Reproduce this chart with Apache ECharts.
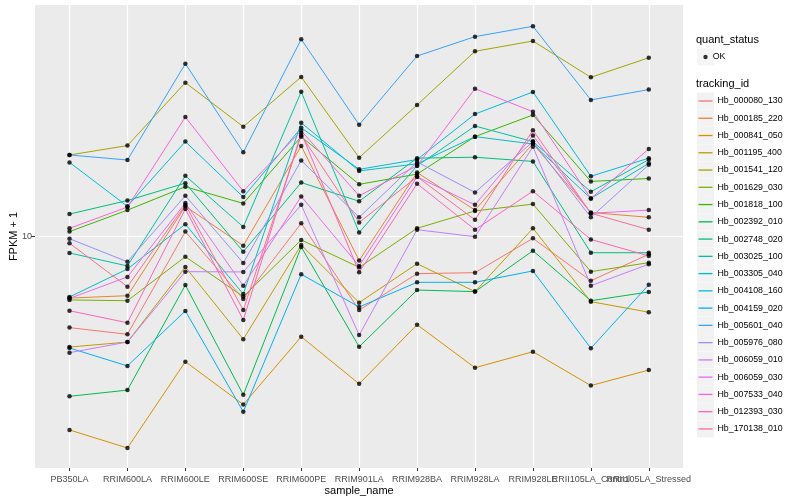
<!DOCTYPE html>
<html>
<head>
<meta charset="utf-8">
<script src="https://cdn.jsdelivr.net/npm/echarts@6/dist/echarts.min.js"></script>
<style>html,body{margin:0;padding:0;background:#fff;}#chart{width:800px;height:500px;}</style>
</head>
<body>
<div id="chart"></div>
<script>
const categories = ['PB350LA','RRIM600LA','RRIM600LE','RRIM600SE','RRIM600PE','RRIM901LA','RRIM928BA','RRIM928LA','RRIM928LE','RRII105LA_Control','RRII105LA_Stressed'];
const trackingIds = ['Hb_000080_130','Hb_000185_220','Hb_000841_050','Hb_001195_400','Hb_001541_120','Hb_001629_030','Hb_001818_100','Hb_002392_010','Hb_002748_020','Hb_003025_100','Hb_003305_040','Hb_004108_160','Hb_004159_020','Hb_005601_040','Hb_005976_080','Hb_006059_010','Hb_006059_030','Hb_007533_040','Hb_012393_030','Hb_170138_010'];
const colors = ['#F8766D','#EA8331','#D89000','#C09B00','#A3A500','#7CAE00','#39B600','#00BB4E','#00BF7D','#00C1A3','#00BFC4','#00BAE0','#00B0F6','#35A2FF','#9590FF','#C77CFF','#E76BF3','#FA62DB','#FF62BC','#FF6C91'];
const yTickValues = [10];

// FPKM + 1 per sample (order of categories)
const hb_000080_130 = [4.04, 3.78, 10.5, 5.37, 11.4, 4.81, 6.91, 6.98, 9.82, 6.44, 8.38];
const hb_000185_220 = [5.42, 5.55, 13.5, 9.13, 24.6, 7.88, 18.9, 13.0, 25.2, 12.7, 12.1];
const hb_000841_050 = [1.46, 1.22, 2.88, 1.88, 3.69, 2.31, 4.16, 2.71, 3.18, 2.27, 2.65];
const hb_001195_400 = [3.33, 3.50, 7.38, 3.60, 9.19, 5.18, 7.63, 5.78, 10.85, 5.23, 4.71];
const hb_001541_120 = [22.5, 24.7, 46.2, 29.8, 48.9, 21.9, 37.0, 63.1, 69.9, 48.7, 59.2];
const hb_001629_030 = [5.32, 5.28, 8.18, 5.50, 9.66, 7.36, 10.85, 12.9, 13.8, 7.05, 7.71];
const hb_001818_100 = [10.5, 13.0, 16.4, 13.9, 27.0, 16.8, 18.6, 27.0, 33.5, 17.3, 17.8];
const hb_002392_010 = [2.04, 2.17, 6.17, 2.07, 9.01, 3.34, 5.87, 5.78, 8.68, 5.28, 5.76];
const hb_002748_020 = [12.5, 14.3, 17.0, 8.60, 17.1, 14.2, 21.8, 22.0, 21.1, 8.51, 8.51];
const hb_003025_100 = [8.49, 7.46, 18.3, 11.0, 42.2, 10.4, 20.2, 30.0, 25.7, 15.6, 21.5];
const hb_003305_040 = [5.48, 7.24, 11.3, 5.64, 31.0, 19.2, 20.6, 27.0, 25.1, 14.6, 20.7];
const hb_004108_160 = [20.9, 13.5, 25.7, 14.8, 29.5, 19.5, 21.5, 33.8, 42.1, 18.2, 21.8];
const hb_004159_020 = [3.30, 2.76, 4.77, 1.75, 6.87, 4.96, 6.34, 6.34, 7.10, 3.29, 6.19];
const hb_005601_040 = [22.5, 21.4, 55.8, 23.1, 71.1, 30.4, 60.2, 73.0, 80.9, 38.9, 43.1];
const hb_005976_080 = [9.78, 7.78, 15.0, 7.68, 21.3, 12.1, 21.0, 15.5, 25.7, 12.1, 20.4];
const hb_006059_010 = [3.15, 3.50, 7.05, 7.03, 13.7, 3.75, 10.7, 9.98, 24.4, 6.13, 7.59];
const hb_006059_030 = [5.40, 6.69, 13.95, 6.13, 14.9, 7.46, 18.1, 13.7, 27.3, 12.6, 13.0];
const hb_007533_040 = [10.85, 13.4, 32.8, 15.7, 28.6, 15.0, 20.2, 43.5, 34.6, 14.6, 23.9];
const hb_012393_030 = [4.78, 4.24, 13.15, 4.36, 28.0, 7.01, 16.9, 10.7, 15.7, 9.71, 8.24];
const hb_170138_010 = [9.35, 6.07, 13.7, 4.81, 27.4, 11.5, 18.1, 11.8, 28.8, 12.6, 10.7];

const seriesValues = [hb_000080_130, hb_000185_220, hb_000841_050, hb_001195_400, hb_001541_120, hb_001629_030, hb_001818_100, hb_002392_010, hb_002748_020, hb_003025_100, hb_003305_040, hb_004108_160, hb_004159_020, hb_005601_040, hb_005976_080, hb_006059_010, hb_006059_030, hb_007533_040, hb_012393_030, hb_170138_010];

const FONT = 'Liberation Sans, Arial, Helvetica, sans-serif';
const chart = echarts.init(document.getElementById('chart'), null, {renderer: 'canvas'});

const lineSeries = trackingIds.map((id, i) => ({
  name: id,
  type: 'line',
  xAxisIndex: 1,
  yAxisIndex: 1,
  data: seriesValues[i],
  color: colors[i],
  showSymbol: false,
  symbol: 'none',
  clip: false,
  lineStyle: {width: 1, color: colors[i]},
  emphasis: {disabled: true},
  z: 2
}));

const pointData = [];
seriesValues.forEach(vals => vals.forEach((v, j) => pointData.push([categories[j], v])));

const okSeries = {
  name: 'OK',
  type: 'scatter',
  xAxisIndex: 1,
  yAxisIndex: 1,
  data: pointData,
  symbol: 'circle',
  symbolSize: 4.5,
  color: '#000',
  itemStyle: {color: '#000'},
  clip: false,
  emphasis: {disabled: true},
  z: 5
};

const option = {
  animation: false,
  backgroundColor: '#fff',
  textStyle: {fontFamily: FONT},
  title: [
    {text: 'quant_status', left: 696, top: 34.5, padding: 0, textStyle: {fontSize: 11, fontWeight: 'normal', color: '#000', fontFamily: FONT}},
    {text: 'tracking_id', left: 696, top: 78.5, padding: 0, textStyle: {fontSize: 11, fontWeight: 'normal', color: '#000', fontFamily: FONT}}
  ],
  grid: [
    {left: 35, right: 117, top: 5, bottom: 32, show: true, backgroundColor: '#EBEBEB', borderWidth: 0, containLabel: false, outerBoundsMode: 'none'},
    {left: 69.5, right: 151.2, top: 5, bottom: 32, containLabel: false, outerBoundsMode: 'none'}
  ],
  xAxis: [
    {gridIndex: 0, type: 'value', min: 0, max: 1, show: false},
    {
      gridIndex: 1, type: 'category', data: categories, boundaryGap: false,
      axisLine: {show: false},
      axisTick: {show: true, interval: 0, length: 3, lineStyle: {color: '#333', width: 1}},
      axisLabel: {interval: 0, fontSize: 9, color: '#4D4D4D', margin: 7, fontFamily: FONT, hideOverlap: false},
      splitLine: {show: true, interval: 0, lineStyle: {color: '#fff', width: 1.2}},
      name: 'sample_name', nameLocation: 'middle', nameGap: 17, nameMoveOverlap: false,
      nameTextStyle: {fontSize: 11, color: '#000', fontFamily: FONT}
    }
  ],
  yAxis: [
    {
      gridIndex: 0, type: 'log', logBase: 10, min: 1, max: 100,
      axisLine: {show: false},
      axisTick: {show: true, length: 4, customValues: yTickValues, lineStyle: {color: '#333', width: 1}},
      axisLabel: {fontSize: 9, color: '#4D4D4D', margin: 3, customValues: yTickValues, fontFamily: FONT,
        formatter: v => (Math.abs(v - 10) < 1e-6 ? '10' : '')},
      splitLine: {show: true, lineStyle: {color: '#fff', width: 1.2}},
      name: 'FPKM + 1', nameLocation: 'middle', nameGap: 16, nameRotate: 90, nameMoveOverlap: false,
      nameTextStyle: {fontSize: 11, color: '#000', fontFamily: FONT}
    },
    {gridIndex: 1, type: 'log', logBase: 10, min: 1, max: 100, show: false}
  ],
  legend: [
    {data: ['OK'], orient: 'vertical', left: 697, top: 48.5, padding: 0, icon: 'rect', itemWidth: 17, itemHeight: 17,
     itemStyle: {color: '#F2F2F2', borderWidth: 0}, formatter: () => '', selectedMode: false, z: 3},
    {data: ['OK'], orient: 'vertical', left: 703.3, top: 48.5, padding: 0, icon: 'circle', itemWidth: 4.4, itemHeight: 4.4,
     itemGap: 0, itemTextGap: 9.5, selectedMode: false, z: 4,
     textStyle: {fontSize: 8.8, color: '#000', lineHeight: 17, fontFamily: FONT}},
    {data: trackingIds, orient: 'vertical', left: 697, top: 92.5, padding: 0, icon: 'rect', itemWidth: 17, itemHeight: 17,
     itemGap: 0.26, itemStyle: {color: '#F2F2F2', borderWidth: 0}, formatter: () => '', selectedMode: false, z: 3},
    {data: trackingIds, orient: 'vertical', left: 698.5, top: 92.5, padding: 0, icon: 'rect', itemWidth: 14, itemHeight: 1.3,
     itemGap: 0.26, itemTextGap: 4.5, selectedMode: false, z: 4,
     textStyle: {fontSize: 8.8, color: '#000', lineHeight: 17, fontFamily: FONT}}
  ],
  series: lineSeries.concat([okSeries])
};
chart.setOption(option);
</script>
</body>
</html>
